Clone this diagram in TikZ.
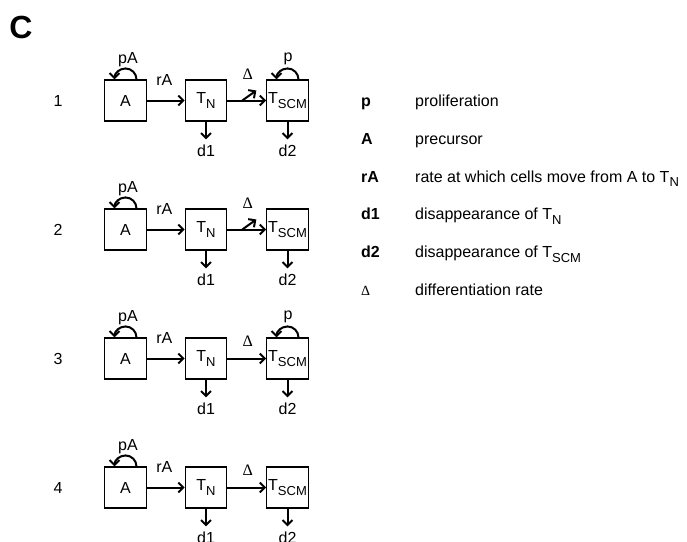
\documentclass[tikz,border=0pt]{standalone}
\usepackage{fontspec}
\setmainfont{Liberation Sans}
\newfontfamily\symfont{Liberation Serif}
\usetikzlibrary{arrows.meta,calc}

% lowered subscript for the cell names
\newcommand\lowsub[1]{\raisebox{-0.3em}{\fontsize{13}{13}\selectfont #1}}
\newcommand\Dl{{\symfont\char"0394}}

\begin{document}
\begin{tikzpicture}[x=1pt,y=1pt,
  every node/.style={font=\fontsize{16}{19}\selectfont, inner sep=0pt},
  cell/.style={draw, line width=1.1pt, minimum width=41.5pt, minimum height=41pt},
  flow/.style={line width=2pt, -{Straight Barb[length=5pt,width=10pt]}},
  term/.style={anchor=base west, font=\fontsize{16}{19}\selectfont\bfseries},
  desc/.style={anchor=base west}]

\useasboundingbox (0,0) rectangle (687,-541);

\node (C) at (21,-27) {\fontsize{32}{36}\selectfont\bfseries C};

% the four model variants
\foreach \r/\hasp/\hasdiag in {1/1/1, 2/0/1, 3/1/0, 4/0/0}{
  \pgfmathsetmacro\yc{-100.5-129*(\r-1)}
  \node (row\r) at (58,\yc) {\r};
  \node[cell] (A\r) at (125.5,\yc) {A};
  \node[cell] (N\r) at (206,\yc) {T\lowsub{N}};
  \node[cell] (S\r) at (287.5,\yc) {T\lowsub{SCM}};
  \node (pA\r) at ($(A\r.north)+(2.5,20)$) {pA};
  \node (rA\r) at ($(A\r.north east)+(17.5,-1)$) {rA};
  \node (da\r) at ($(N\r.south)+(0,-29)$) {d1};
  \node (db\r) at ($(S\r.south)+(0,-29)$) {d2};
  \draw[flow] (A\r) -- (N\r);
  \draw[flow] (N\r) -- (S\r);
  \draw[flow] ([xshift=11pt]A\r.north) arc[start angle=0, end angle=180, radius=11pt];
  \draw[flow, shorten >=5pt] (N\r.south) -- (da\r.north);
  \draw[flow, shorten >=5pt] (S\r.south) -- (db\r.north);
  \ifnum\hasp=1
    \node (p\r) at ($(S\r.north)+(0.5,21)$) {p};
    \draw[flow] ([xshift=11pt]S\r.north) arc[start angle=0, end angle=180, radius=11pt];
  \fi
  \ifnum\hasdiag=1
    \node (dl\r) at ($(N\r.north east)+(20.5,5)$) {\Dl};
    \draw[flow] ([xshift=15pt]N\r.east) -- ++(14,10);
  \else
    \node (dl\r) at ($(N\r.north east)+(20.5,-4)$) {\Dl};
  \fi
}

% legend, one baseline per entry
\node[term] (tp)  at (361,-106.5) {p};
\node[term] (tA)  at (361,-144.3) {A};
\node[term] (trA) at (361,-182.1) {rA};
\node[term] (td1) at (361,-219.9) {d1};
\node[term] (td2) at (361,-257.7) {d2};
\node[anchor=base west, font=\fontsize{14}{17}\selectfont] (tdl) at (361,-295.5) {\Dl};
\node[desc] (ep)  at (415,-106.5) {proliferation};
\node[desc] (eA)  at (415,-144.3) {precursor};
\node[desc] (erA) at (415,-182.1) {rate at which cells move from A to T\lowsub{N}};
\node[desc] (ed1) at (415,-219.9) {disappearance of T\lowsub{N}};
\node[desc] (ed2) at (415,-257.7) {disappearance of T\lowsub{SCM}};
\node[desc] (edl) at (415,-295.5) {differentiation rate};
\end{tikzpicture}
\end{document}
